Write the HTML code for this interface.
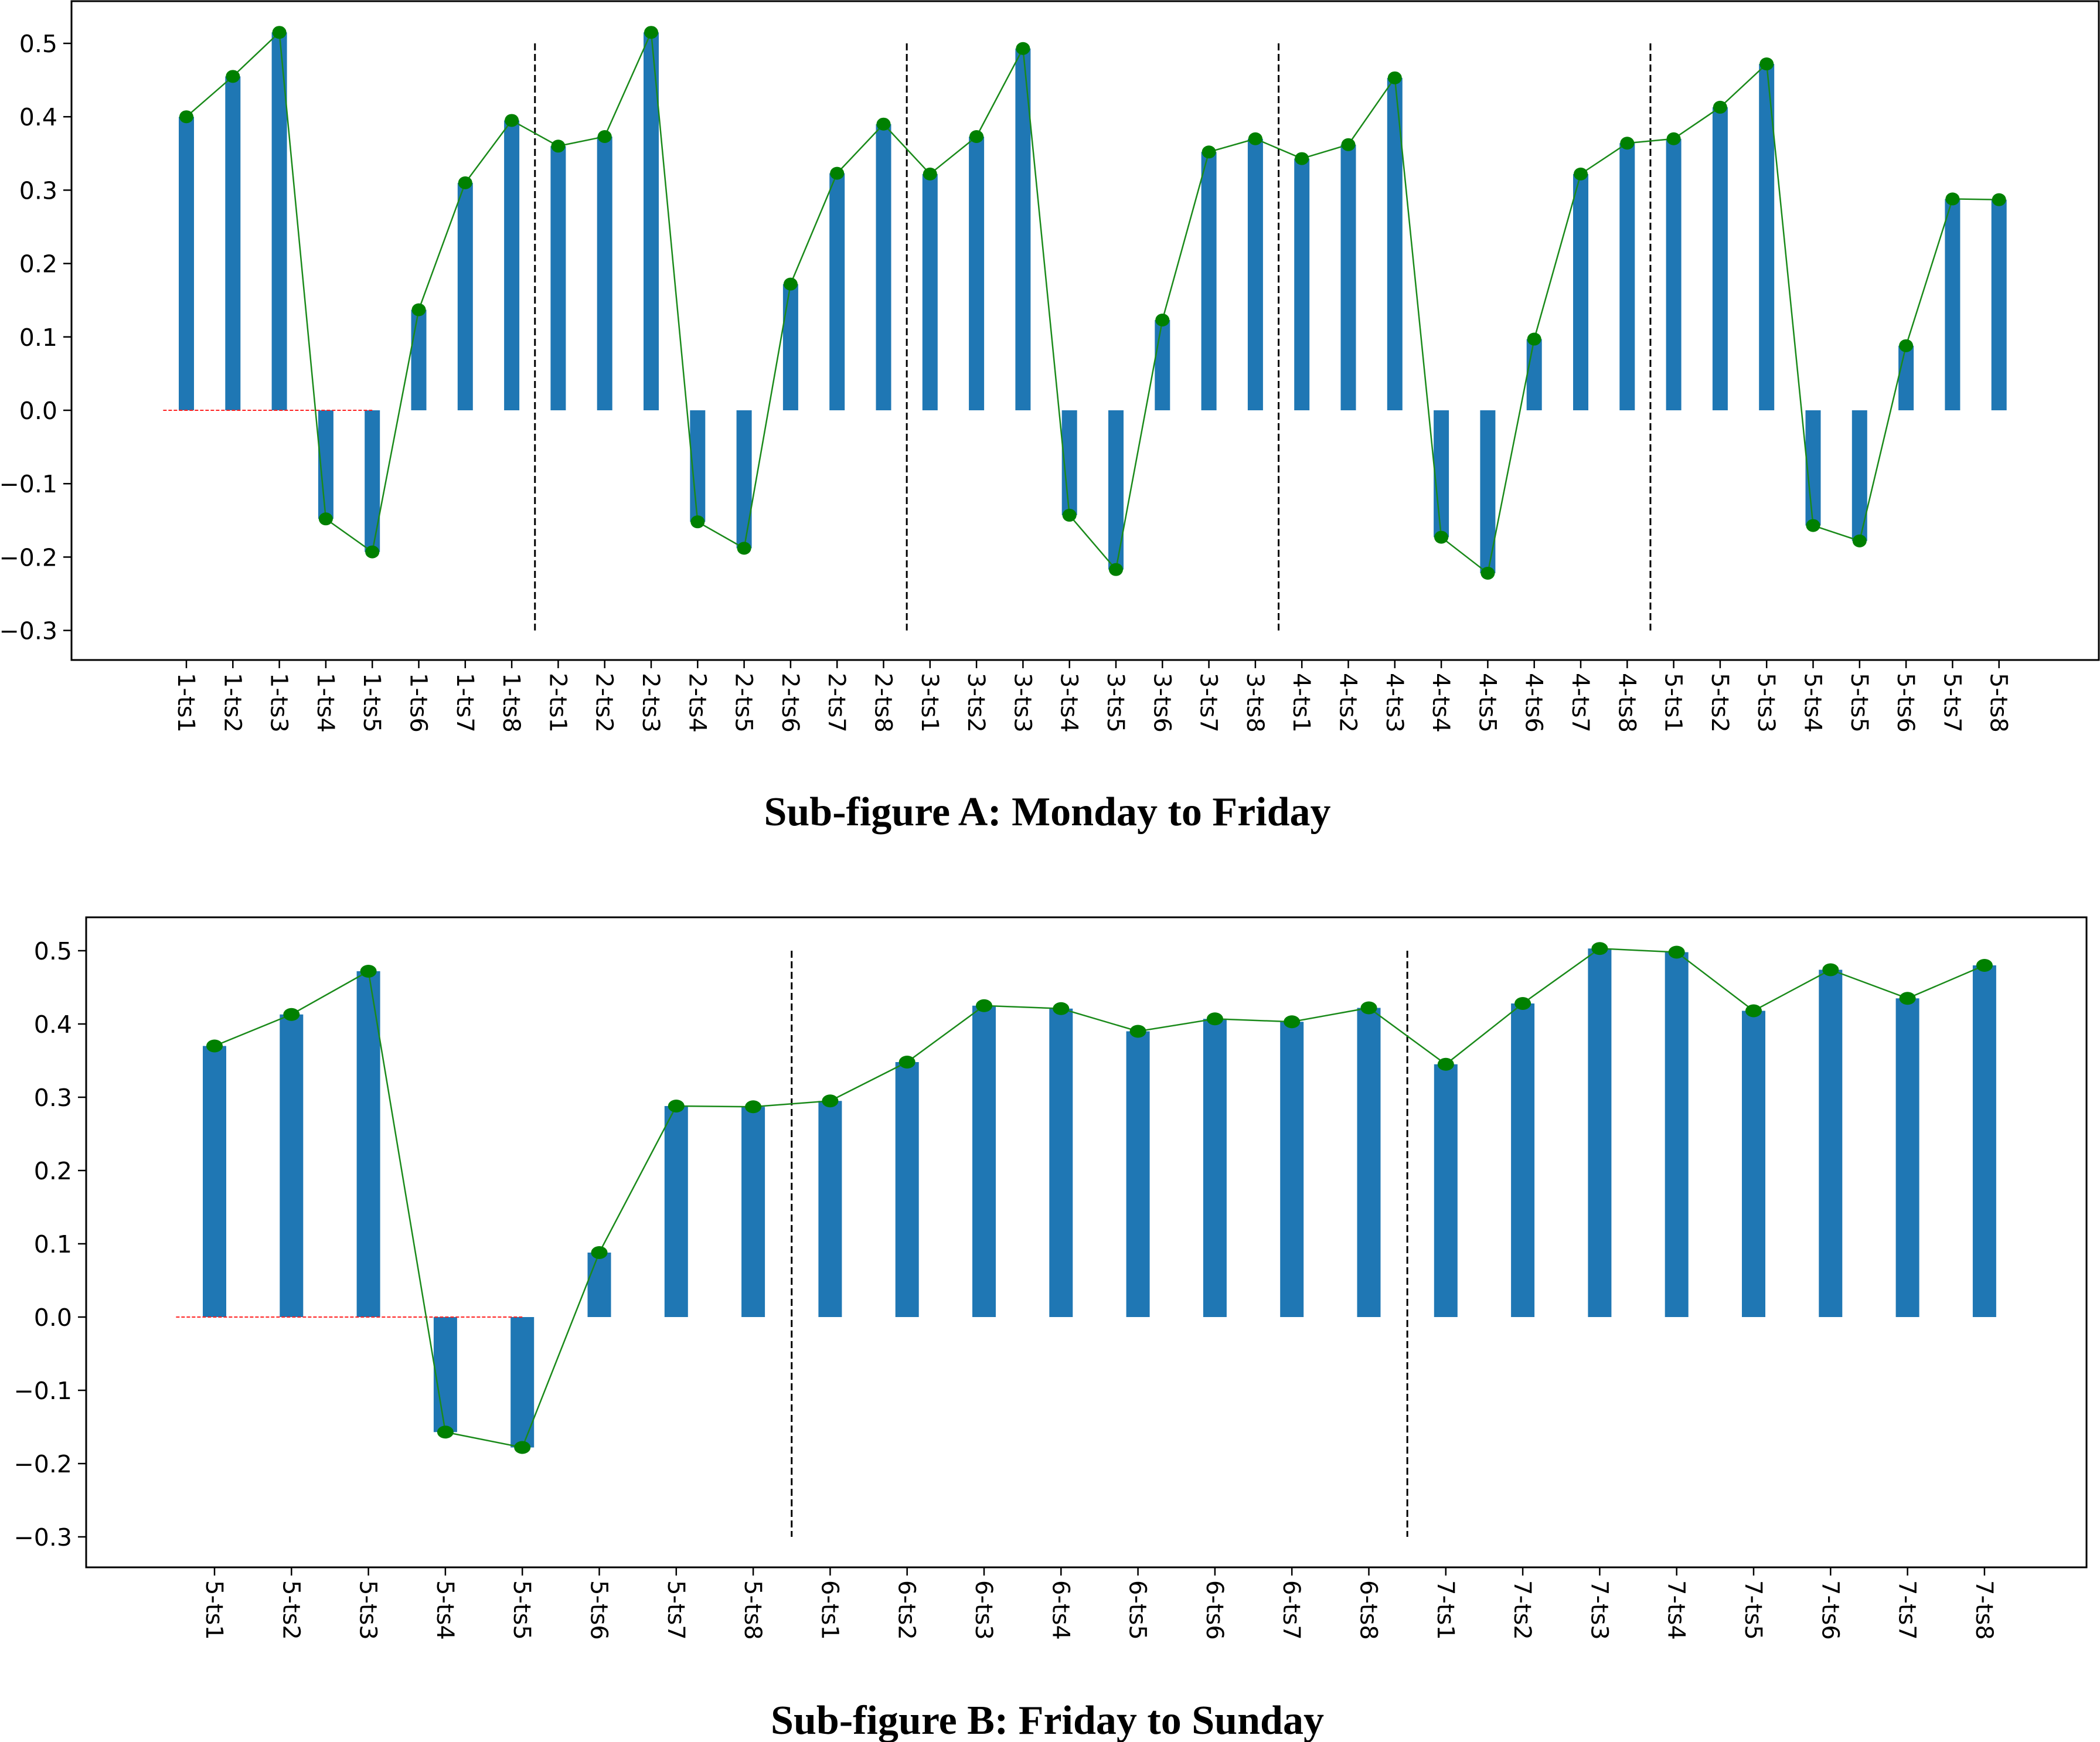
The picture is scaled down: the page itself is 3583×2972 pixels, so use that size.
<!DOCTYPE html>
<html><head><meta charset="utf-8"><style>
html,body{margin:0;padding:0;background:#fff}
svg{display:block}
text{font-family:"DejaVu Sans","Liberation Sans",sans-serif}
.cap{font-family:"Liberation Serif",serif;font-weight:bold}
</style></head><body>
<svg id="fig" width="3583" height="2972" viewBox="0 0 3583 2972" xmlns="http://www.w3.org/2000/svg">
<text class="cap" x="1787" y="1408" font-size="70" text-anchor="middle">Sub-figure A: Monday to Friday</text>
<text class="cap" x="1787" y="2958" font-size="70" text-anchor="middle">Sub-figure B: Friday to Sunday</text>
</svg>
<script>
const catsA = [];
for (const d of [1,2,3,4,5]) for (let t=1;t<=8;t++) catsA.push(d+'-ts'+t);
const valuesA = [
 0.40,0.455,0.515,-0.148,-0.193,0.137,0.31,0.395,
 0.36,0.373,0.515,-0.152,-0.188,0.172,0.323,0.39,
 0.322,0.373,0.493,-0.143,-0.217,0.123,0.352,0.37,
 0.343,0.362,0.453,-0.173,-0.222,0.097,0.322,0.364,
 0.37,0.413,0.472,-0.157,-0.178,0.088,0.288,0.287];
const catsB = [];
for (const d of [5,6,7]) for (let t=1;t<=8;t++) catsB.push(d+'-ts'+t);
const valuesB = [
 0.37,0.413,0.472,-0.157,-0.178,0.088,0.288,0.287,
 0.295,0.348,0.425,0.421,0.39,0.407,0.403,0.422,
 0.345,0.428,0.503,0.498,0.418,0.474,0.435,0.48];
const yTicks = [0.5,0.4,0.3,0.2,0.1,0.0,-0.1,-0.2,-0.3];
const sepA = [7.5,15.5,23.5,31.5];
const sepB = [7.5,15.5];

const NS='http://www.w3.org/2000/svg';
const svg=document.getElementById('fig');
function mk(tag,attrs,parent){const e=document.createElementNS(NS,tag);for(const k in attrs)e.setAttribute(k,attrs[k]);(parent||svg).appendChild(e);return e;}

function chart(cfg){
  const g=mk('g',{});
  
  
  const y=v=>cfg.y0+(-v)*cfg.pxPer;
  const x=i=>cfg.x0+i*cfg.dx;
  cfg.vals.forEach((v,i)=>{
    const r=mk('rect',{x:x(i)-cfg.bw/2,y:Math.min(y(v),y(0)),width:cfg.bw,height:Math.abs(y(v)-y(0)),fill:'#1f77b4'},g);
    
    
  });
  const rl=mk('line',{x1:x(-0.5),x2:x(4),y1:y(0),y2:y(0),stroke:'#ff2020','stroke-width':2,'stroke-dasharray':'6,3'},g);
  
  
  cfg.seps.forEach((s,k)=>{
    const l=mk('line',{x1:x(s),x2:x(s),y1:y(0.5),y2:y(-0.3),stroke:'#000','stroke-width':3,'stroke-dasharray':'12,6'},g);
    
    
  });
  const pts=cfg.vals.map((v,i)=>x(i)+','+y(v)).join(' ');
  const pl=mk('polyline',{points:pts,fill:'none',stroke:'#1a8a1a','stroke-width':2.5},g);
  
  
  cfg.vals.forEach((v,i)=>{
    const c=mk('ellipse',{cx:x(i),cy:y(v),rx:cfg.mr,ry:cfg.mry,fill:'#008000'},g);
    
    
  });
  const f=mk('rect',{x:cfg.fl,y:cfg.ft,width:cfg.fr-cfg.fl,height:cfg.fb-cfg.ft,fill:'none',stroke:'#000','stroke-width':3},g);
  
  
  yTicks.forEach(t=>{
    mk('line',{x1:cfg.fl-14,x2:cfg.fl,y1:y(t),y2:y(t),stroke:'#000','stroke-width':2.5},g);
    const tx=mk('text',{x:cfg.fl-24,y:y(t)+15,'font-size':41,'text-anchor':'end',fill:'#000'},g);
    tx.textContent=(t<0?'\u2212':'')+Math.abs(t).toFixed(1);
    
    
  });
  cfg.cats.forEach((c,i)=>{
    mk('line',{x1:x(i),x2:x(i),y1:cfg.fb,y2:cfg.fb+14,stroke:'#000','stroke-width':2.5},g);
    const tx=mk('text',{x:0,y:0,'font-size':40,fill:'#000',transform:'translate('+(x(i)-14)+','+(cfg.fb+22)+') rotate(90)'},g);
    tx.textContent=c;
    
    
  });
}
chart({name:'chart-a',cats:catsA,vals:valuesA,x0:318,dx:79.3,bw:26,y0:700,pxPer:1252,seps:sepA,fl:122,ft:2,fr:3581,fb:1126,mr:12,mry:11});
chart({name:'chart-b',cats:catsB,vals:valuesB,x0:366,dx:131.3,bw:40,y0:2247,pxPer:1250,seps:sepB,fl:147,ft:1565,fr:3560,fb:2674,mr:14,mry:11});
</script>
</body></html>
